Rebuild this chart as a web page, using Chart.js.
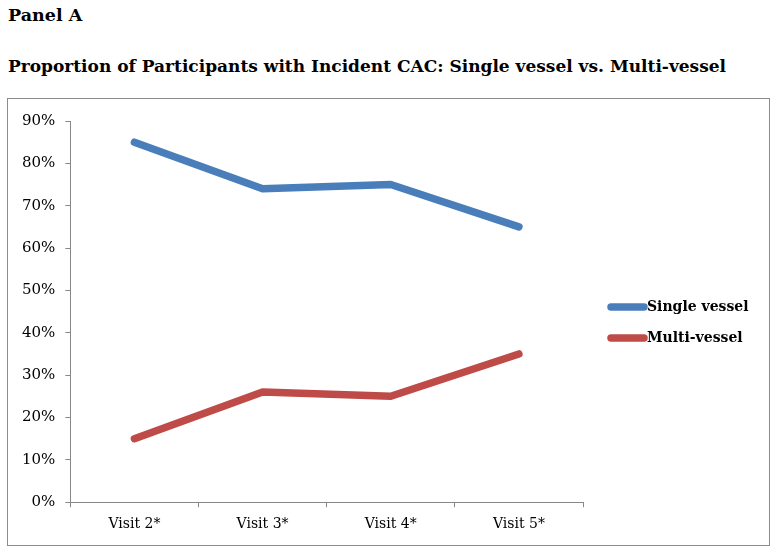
<!DOCTYPE html>
<html>
<head>
<meta charset="utf-8">
<script src="https://cdn.jsdelivr.net/npm/chart.js@4"></script>
<style>
  body { margin: 0; background: #fff; font-family: "DejaVu Serif", serif; }
  .panel { position: absolute; left: 8px; top: 5px; font-size: 17.5px; font-weight: bold; color: #000; }
  .title { position: absolute; left: 8px; top: 56px; font-size: 17px; font-weight: bold; color: #000; white-space: nowrap; }
  .box { position: absolute; left: 7px; top: 98px; width: 761px; height: 446px; border: 1.5px solid #8c8c8c; }
  canvas { display: block; }
</style>
</head>
<body>
<div class="panel">Panel A</div>
<div class="title">Proportion of Participants with Incident CAC: Single vessel vs. Multi-vessel</div>
<div class="box"><canvas id="chart" width="761" height="446"></canvas></div>
<script>
'use strict';

let visits = ['Visit 2*', 'Visit 3*', 'Visit 4*', 'Visit 5*'];
let singleVessel = [85, 74, 75, 65];
let multiVessel = [15, 26, 25, 35];
let yTicks = [0, 10, 20, 30, 40, 50, 60, 70, 80, 90];

let canvasElem = document.getElementById('chart');

// legend drawn by hand: thick line sample + bold label
const sideLegend = {
  id: 'sideLegend',
  afterDraw(chart) {
    let ctx = chart.ctx;
    let x = 600;
    let rows = [208, 239];
    chart.data.datasets.forEach(function (ds, i) {
      ctx.save();
      ctx.strokeStyle = ds.borderColor;
      ctx.lineWidth = 7.5;
      ctx.lineCap = 'round';
      ctx.beginPath();
      ctx.moveTo(x + 3, rows[i]);
      ctx.lineTo(x + 36, rows[i]);
      ctx.stroke();
      ctx.fillStyle = '#000';
      ctx.font = 'bold 14px "DejaVu Serif"';
      ctx.textBaseline = 'middle';
      ctx.fillText(ds.label, x + 39, rows[i]);
      ctx.restore();
    });
  }
};

const data = {
  labels: visits,
  datasets: [
    {
      label: 'Single vessel',
      data: singleVessel,
      borderColor: '#4a7ebb',
      backgroundColor: '#4a7ebb',
      borderWidth: 7.5,
      pointRadius: 0,
      borderCapStyle: 'round',
      borderJoinStyle: 'round',
      tension: 0
    },
    {
      label: 'Multi-vessel',
      data: multiVessel,
      borderColor: '#be4b48',
      backgroundColor: '#be4b48',
      borderWidth: 7.5,
      pointRadius: 0,
      borderCapStyle: 'round',
      borderJoinStyle: 'round',
      tension: 0
    }
  ]
};

const config = {
  type: 'line',
  data: data,
  options: {
    responsive: false,
    animation: false,
    layout: { padding: { left: 4, right: 186, top: 22, bottom: 3 } },
    plugins: {
      legend: { display: false },
      tooltip: { enabled: false }
    },
    scales: {
      x: {
        offset: true,
        grid: { offset: true, drawOnChartArea: false, drawTicks: true, tickLength: 5, color: '#888' },
        border: { color: '#888', width: 1 },
        ticks: { color: '#000', font: { family: 'DejaVu Serif', size: 14 }, padding: 9 }
      },
      y: {
        min: 0,
        max: 90,
        afterBuildTicks(axis) {
          axis.ticks = yTicks.map(v => ({ value: v }));
        },
        grid: { drawOnChartArea: false, drawTicks: true, tickLength: 5, color: '#888' },
        border: { color: '#888', width: 1 },
        ticks: {
          color: '#000',
          font: { family: 'DejaVu Serif', size: 15 },
          padding: 10,
          callback: v => v + '%'
        }
      }
    }
  },
  plugins: [sideLegend]
};

new Chart(canvasElem, config);
</script>
</body>
</html>
